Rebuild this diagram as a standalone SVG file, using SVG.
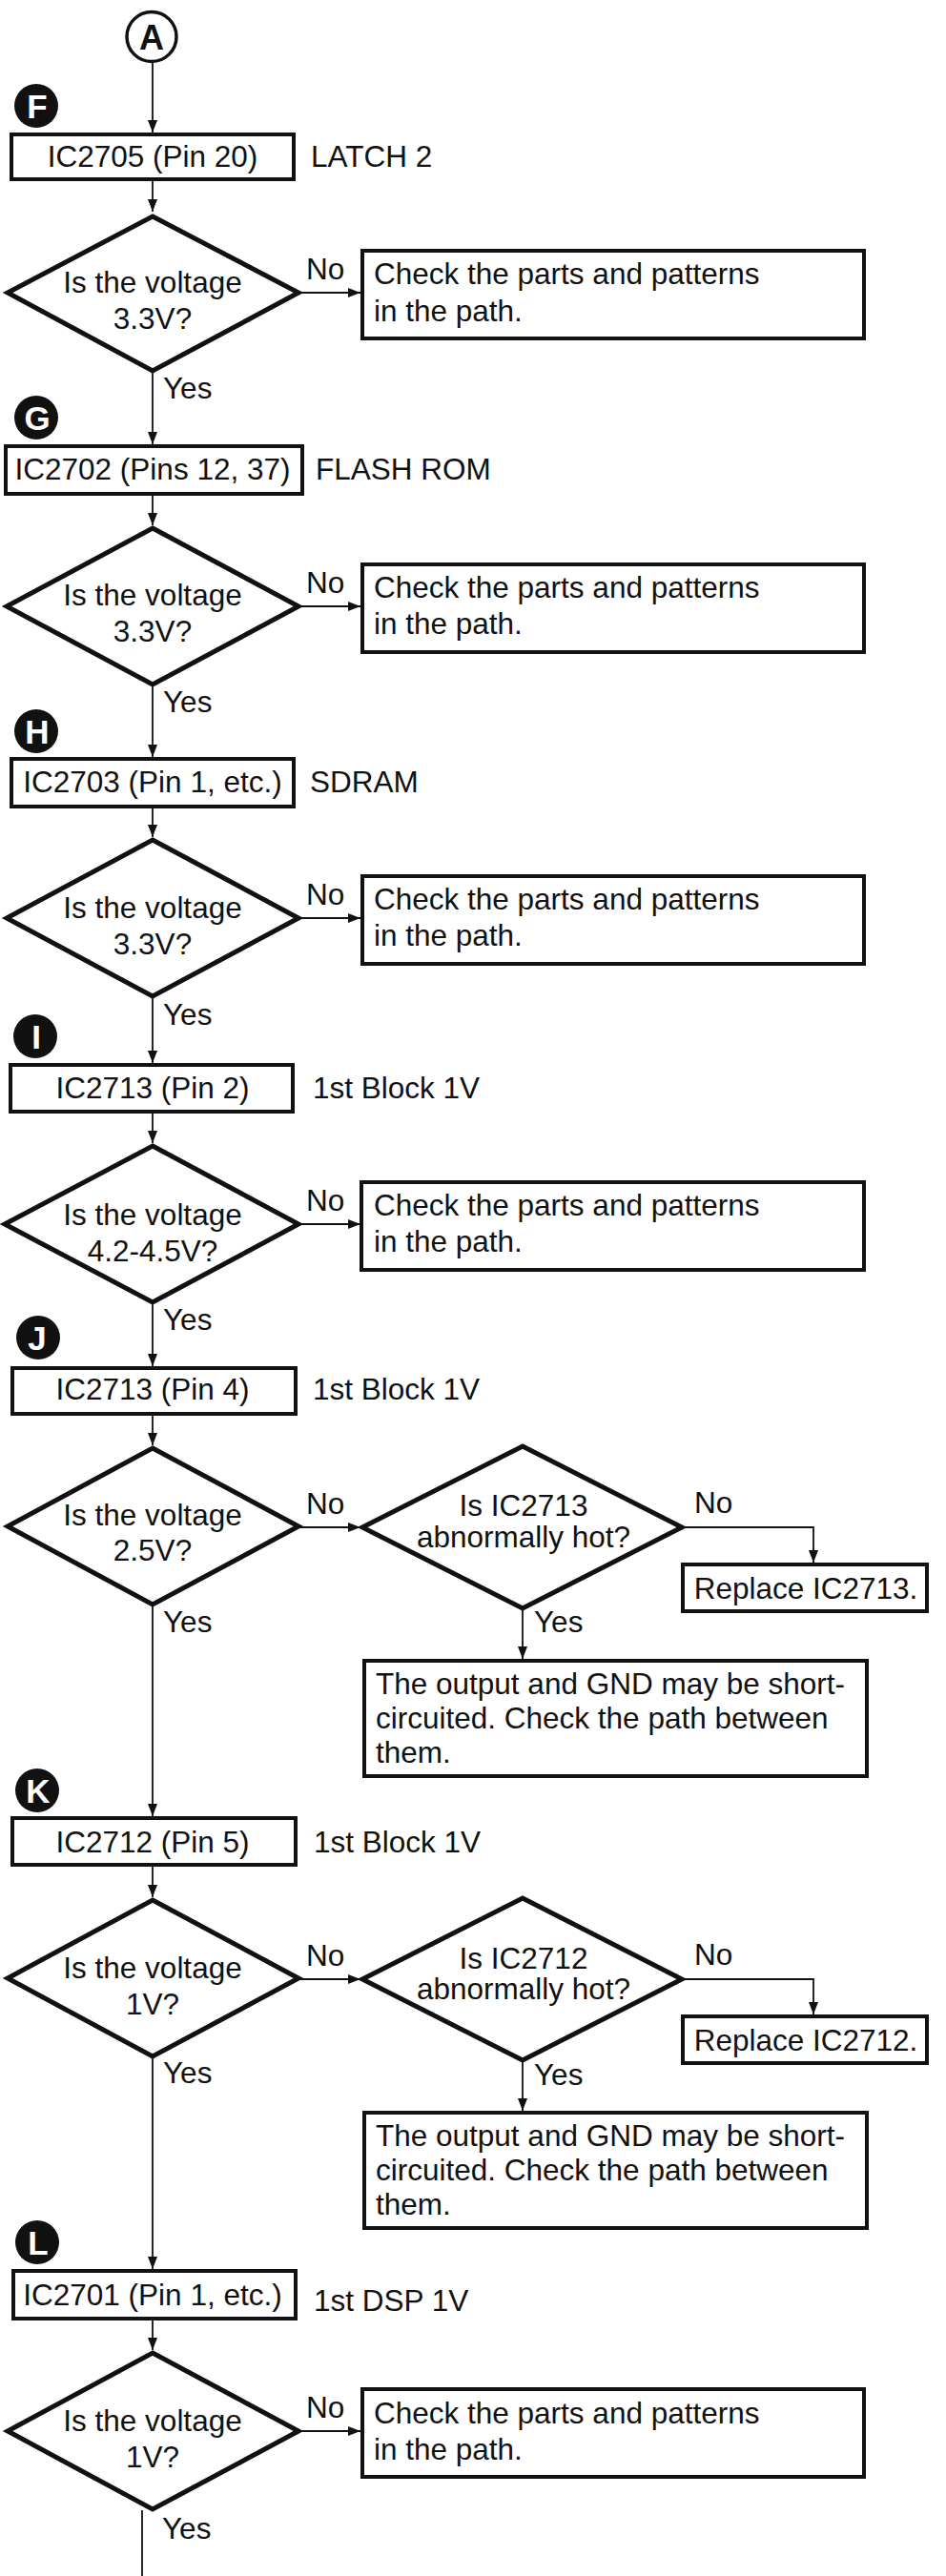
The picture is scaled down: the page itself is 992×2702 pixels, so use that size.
<svg xmlns="http://www.w3.org/2000/svg" width="992" height="2702" viewBox="0 0 992 2702">
<style>
text{font-family:"Liberation Sans",Arial,sans-serif;font-size:31.5px;fill:#111}
.c{text-anchor:middle}
.box{fill:#fff;stroke:#111;stroke-width:4}
.dia{fill:#fff;stroke:#111;stroke-width:5;stroke-linejoin:miter}
.ln{fill:none;stroke:#111;stroke-width:1.8}
.badge{fill:#111}
.bl{font-weight:bold;font-size:35px;fill:#fff;text-anchor:middle}
</style>
<defs>
<marker id="arr" markerUnits="userSpaceOnUse" markerWidth="13" markerHeight="10" refX="13" refY="5" orient="auto">
<path d="M0,0 L13,5 L0,10 z" fill="#111"/>
</marker>
</defs>
<rect width="992" height="2702" fill="#fff"/>

<g id="connectors">
<path class="ln" marker-end="url(#arr)" d="M160,65 V139"/>
<path class="ln" marker-end="url(#arr)" d="M160,188 V222"/>
<path class="ln" marker-end="url(#arr)" d="M160,389 V466"/>
<path class="ln" marker-end="url(#arr)" d="M160,518 V551"/>
<path class="ln" marker-end="url(#arr)" d="M160,718 V794"/>
<path class="ln" marker-end="url(#arr)" d="M160,846 V878"/>
<path class="ln" marker-end="url(#arr)" d="M160,1045 V1115"/>
<path class="ln" marker-end="url(#arr)" d="M160,1166 V1199"/>
<path class="ln" marker-end="url(#arr)" d="M160,1366 V1433"/>
<path class="ln" marker-end="url(#arr)" d="M160,1483 V1516"/>
<path class="ln" marker-end="url(#arr)" d="M160,1683 V1905"/>
<path class="ln" marker-end="url(#arr)" d="M160,1956 V1990"/>
<path class="ln" marker-end="url(#arr)" d="M160,2157 V2380"/>
<path class="ln" marker-end="url(#arr)" d="M160,2432 V2465"/>
<path class="ln" d="M149,2633 V2702"/>
<path class="ln" marker-end="url(#arr)" d="M313,307 H378"/>
<path class="ln" marker-end="url(#arr)" d="M313,636 H378"/>
<path class="ln" marker-end="url(#arr)" d="M313,963 H378"/>
<path class="ln" marker-end="url(#arr)" d="M313,1284 H378"/>
<path class="ln" marker-end="url(#arr)" d="M313,1602 H378"/>
<path class="ln" marker-end="url(#arr)" d="M313,2076 H378"/>
<path class="ln" marker-end="url(#arr)" d="M313,2550 H378"/>
<path class="ln" marker-end="url(#arr)" d="M715,1602 H853 V1639"/>
<path class="ln" marker-end="url(#arr)" d="M548,1687 V1740"/>
<path class="ln" marker-end="url(#arr)" d="M715,2076 H853 V2113"/>
<path class="ln" marker-end="url(#arr)" d="M548,2161 V2214"/>
</g>

<g id="labels">
<text x="321" y="293">No</text>
<text x="171" y="418">Yes</text>
<text x="321" y="622">No</text>
<text x="171" y="747">Yes</text>
<text x="321" y="949">No</text>
<text x="171" y="1075">Yes</text>
<text x="321" y="1270">No</text>
<text x="171" y="1395">Yes</text>
<text x="321" y="1588">No</text>
<text x="171" y="1712">Yes</text>
<text x="728" y="1587">No</text>
<text x="560" y="1712">Yes</text>
<text x="321" y="2062">No</text>
<text x="171" y="2185">Yes</text>
<text x="728" y="2061">No</text>
<text x="560" y="2187">Yes</text>
<text x="321" y="2536">No</text>
<text x="170" y="2663">Yes</text>
</g>

<g id="startA">
<circle cx="159" cy="38.5" r="26" fill="#fff" stroke="#111" stroke-width="3.5"/>
<text x="159" y="52" class="c" style="font-weight:bold;font-size:36px">A</text>
</g>

<g id="badgeF"><circle class="badge" cx="38" cy="111" r="23"/><text class="bl" x="39" y="124">F</text></g>
<g id="boxF"><rect class="box" x="12" y="141" width="296" height="47"/><text class="c" x="160" y="175">IC2705 (Pin 20)</text><text x="326" y="175">LATCH 2</text></g>
<g id="diaF"><path class="dia" d="M160,227 L313,307 L160,389 L8,307 Z"/><text class="c" x="160" y="307">Is the voltage</text><text class="c" x="160" y="345">3.3V?</text></g>
<g id="chkF"><rect class="box" x="380" y="263" width="526" height="92"/><text x="392" y="298">Check the parts and patterns</text><text x="392" y="337">in the path.</text></g>

<g id="badgeG"><circle class="badge" cx="38" cy="438" r="23"/><text class="bl" x="39" y="451">G</text></g>
<g id="boxG"><rect class="box" x="6" y="468" width="311" height="50"/><text class="c" x="160" y="503">IC2702 (Pins 12, 37)</text><text x="331" y="503">FLASH ROM</text></g>
<g id="diaG"><path class="dia" d="M160,554 L313,636 L160,718 L7,636 Z"/><text class="c" x="160" y="635">Is the voltage</text><text class="c" x="160" y="673">3.3V?</text></g>
<g id="chkG"><rect class="box" x="380" y="592" width="526" height="92"/><text x="392" y="627">Check the parts and patterns</text><text x="392" y="665">in the path.</text></g>

<g id="badgeH"><circle class="badge" cx="38" cy="767" r="23"/><text class="bl" x="39" y="780">H</text></g>
<g id="boxH"><rect class="box" x="12" y="796" width="296" height="50"/><text class="c" x="160" y="831">IC2703 (Pin 1, etc.)</text><text x="325" y="831">SDRAM</text></g>
<g id="diaH"><path class="dia" d="M160,881 L313,963 L160,1045 L7,963 Z"/><text class="c" x="160" y="963">Is the voltage</text><text class="c" x="160" y="1001">3.3V?</text></g>
<g id="chkH"><rect class="box" x="380" y="919" width="526" height="92"/><text x="392" y="954">Check the parts and patterns</text><text x="392" y="992">in the path.</text></g>

<g id="badgeI"><circle class="badge" cx="37" cy="1087" r="23"/><text class="bl" x="38" y="1100">I</text></g>
<g id="boxI"><rect class="box" x="11" y="1117" width="296" height="49"/><text class="c" x="160" y="1152">IC2713 (Pin 2)</text><text x="328" y="1152">1st Block 1V</text></g>
<g id="diaI"><path class="dia" d="M160,1202 L313,1284 L160,1366 L5,1284 Z"/><text class="c" x="160" y="1285">Is the voltage</text><text class="c" x="160" y="1323">4.2-4.5V?</text></g>
<g id="chkI"><rect class="box" x="379" y="1240" width="527" height="92"/><text x="392" y="1275">Check the parts and patterns</text><text x="392" y="1313">in the path.</text></g>

<g id="badgeJ"><circle class="badge" cx="40" cy="1403" r="23"/><text class="bl" x="39" y="1416">J</text></g>
<g id="boxJ"><rect class="box" x="13" y="1435" width="297" height="48"/><text class="c" x="160" y="1468">IC2713 (Pin 4)</text><text x="328" y="1468">1st Block 1V</text></g>
<g id="diaJ"><path class="dia" d="M160,1519 L313,1601 L160,1683 L8,1601 Z"/><text class="c" x="160" y="1600">Is the voltage</text><text class="c" x="160" y="1637">2.5V?</text></g>
<g id="hotJ"><path class="dia" d="M548,1517 L715,1602 L548,1687 L380,1602 Z"/><text class="c" x="549" y="1590">Is IC2713</text><text class="c" x="549" y="1623">abnormally hot?</text></g>
<g id="repJ"><rect class="box" x="716" y="1641" width="256" height="49"/><text class="c" x="845" y="1677">Replace IC2713.</text></g>
<g id="outJ"><rect class="box" x="382" y="1742" width="527" height="121"/><text x="394" y="1777">The output and GND may be short-</text><text x="394" y="1813">circuited. Check the path between</text><text x="394" y="1849">them.</text></g>

<g id="badgeK"><circle class="badge" cx="39" cy="1878" r="23"/><text class="bl" x="40" y="1891">K</text></g>
<g id="boxK"><rect class="box" x="13" y="1907" width="297" height="49"/><text class="c" x="160" y="1943">IC2712 (Pin 5)</text><text x="329" y="1943">1st Block 1V</text></g>
<g id="diaK"><path class="dia" d="M160,1993 L313,2075 L160,2157 L8,2075 Z"/><text class="c" x="160" y="2075">Is the voltage</text><text class="c" x="160" y="2113">1V?</text></g>
<g id="hotK"><path class="dia" d="M548,1991 L715,2076 L548,2161 L380,2076 Z"/><text class="c" x="549" y="2065">Is IC2712</text><text class="c" x="549" y="2097">abnormally hot?</text></g>
<g id="repK"><rect class="box" x="716" y="2115" width="256" height="49"/><text class="c" x="845" y="2151">Replace IC2712.</text></g>
<g id="outK"><rect class="box" x="382" y="2216" width="527" height="121"/><text x="394" y="2251">The output and GND may be short-</text><text x="394" y="2287">circuited. Check the path between</text><text x="394" y="2323">them.</text></g>

<g id="badgeL"><circle class="badge" cx="39" cy="2352" r="23"/><text class="bl" x="40" y="2365">L</text></g>
<g id="boxL"><rect class="box" x="14" y="2382" width="296" height="50"/><text class="c" x="160" y="2418">IC2701 (Pin 1, etc.)</text><text x="329" y="2424">1st DSP 1V</text></g>
<g id="diaL"><path class="dia" d="M160,2468 L313,2550 L160,2632 L8,2550 Z"/><text class="c" x="160" y="2550">Is the voltage</text><text class="c" x="160" y="2588">1V?</text></g>
<g id="chkL"><rect class="box" x="380" y="2506" width="526" height="92"/><text x="392" y="2542">Check the parts and patterns</text><text x="392" y="2580">in the path.</text></g>
</svg>
